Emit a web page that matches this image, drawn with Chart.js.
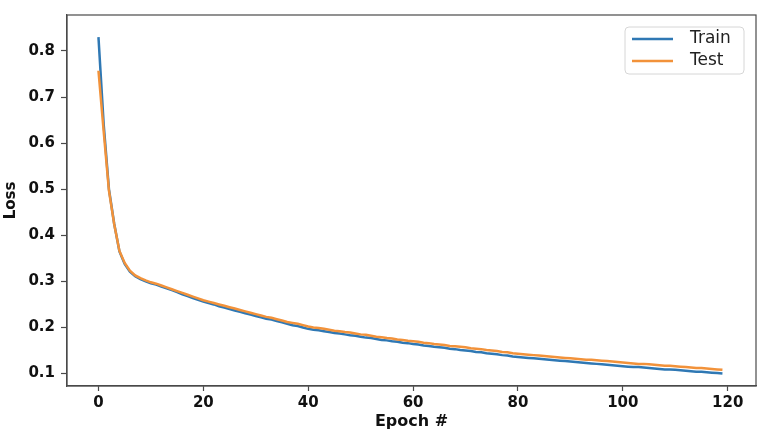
<!DOCTYPE html>
<html>
<head>
<meta charset="utf-8">
<title>Loss</title>
<script src="https://cdn.jsdelivr.net/npm/chart.js@4.4.1/dist/chart.umd.min.js"></script>
<style>
  html, body { margin: 0; padding: 0; background: #fff; }
  canvas { display: block; }
</style>
</head>
<body>
<canvas id="lossChart" width="761" height="433"></canvas>
<script>
// values, one per epoch 0..119
const trainLoss = [
  0.830, 0.640, 0.500, 0.425, 0.365, 0.338, 0.321, 0.311, 0.305, 0.300,
  0.296, 0.293, 0.289, 0.285, 0.281, 0.277, 0.272, 0.268, 0.264, 0.260,
  0.256, 0.253, 0.250, 0.246, 0.243, 0.240, 0.237, 0.234, 0.231, 0.228,
  0.225, 0.222, 0.219, 0.217, 0.214, 0.211, 0.208, 0.205, 0.203, 0.200,
  0.197, 0.195, 0.194, 0.192, 0.190, 0.188, 0.187, 0.185, 0.183, 0.182,
  0.180, 0.178, 0.177, 0.175, 0.173, 0.172, 0.170, 0.169, 0.167, 0.166,
  0.164, 0.163, 0.161, 0.160, 0.158, 0.157, 0.156, 0.154, 0.153, 0.151,
  0.150, 0.149, 0.147, 0.146, 0.144, 0.143, 0.142, 0.140, 0.139, 0.137,
  0.136, 0.135, 0.134, 0.133, 0.132, 0.131, 0.130, 0.129, 0.128, 0.127,
  0.126, 0.125, 0.124, 0.123, 0.122, 0.121, 0.120, 0.119, 0.118, 0.117,
  0.116, 0.115, 0.114, 0.114, 0.113, 0.112, 0.111, 0.110, 0.109, 0.109,
  0.108, 0.107, 0.106, 0.105, 0.104, 0.104, 0.103, 0.102, 0.101, 0.100
];
const testLoss = [
  0.757, 0.625, 0.497, 0.424, 0.366, 0.340, 0.323, 0.313, 0.307, 0.302,
  0.298, 0.295, 0.291, 0.287, 0.283, 0.279, 0.275, 0.271, 0.267, 0.263,
  0.259, 0.256, 0.253, 0.250, 0.247, 0.244, 0.241, 0.238, 0.235, 0.232,
  0.229, 0.226, 0.223, 0.221, 0.218, 0.215, 0.212, 0.210, 0.208, 0.205,
  0.202, 0.200, 0.199, 0.197, 0.195, 0.193, 0.192, 0.190, 0.189, 0.187,
  0.185, 0.184, 0.182, 0.180, 0.179, 0.177, 0.176, 0.174, 0.173, 0.171,
  0.170, 0.169, 0.167, 0.166, 0.164, 0.163, 0.162, 0.160, 0.159, 0.158,
  0.157, 0.155, 0.154, 0.153, 0.151, 0.150, 0.149, 0.147, 0.146, 0.144,
  0.143, 0.142, 0.141, 0.140, 0.139, 0.138, 0.137, 0.136, 0.135, 0.134,
  0.133, 0.132, 0.131, 0.130, 0.130, 0.129, 0.128, 0.127, 0.126, 0.125,
  0.124, 0.123, 0.122, 0.121, 0.121, 0.120, 0.119, 0.118, 0.117, 0.117,
  0.116, 0.115, 0.114, 0.113, 0.112, 0.112, 0.111, 0.110, 0.109, 0.108
];
const epochs = trainLoss.map((_, i) => i);
const xTicks = [0, 20, 40, 60, 80, 100, 120];
const yTicks = [0.1, 0.2, 0.3, 0.4, 0.5, 0.6, 0.7, 0.8];
const seriesNames = ["Train", "Test"];

const AXIS_COLOR = "#4a4a4a";
const TICK_FONT = { family: "DejaVu Sans", size: 15, weight: "bold" };

// frame around the plot, like matplotlib spines
const framePlugin = {
  id: "frame",
  afterDraw(chart) {
    const { ctx, chartArea: a } = chart;
    ctx.save();
    ctx.strokeStyle = AXIS_COLOR;
    ctx.lineWidth = 1.2;
    ctx.strokeRect(a.left, a.top, a.right - a.left, a.bottom - a.top);
    ctx.restore();
  }
};

// legend box in the upper right of the plot
const boxLegend = {
  id: "boxLegend",
  afterDatasetsDraw(chart) {
    const { ctx, chartArea: a } = chart;
    const w = 119, h = 47;
    const x = a.right - 12 - w, y = a.top + 12;
    ctx.save();
    ctx.beginPath();
    ctx.roundRect(x, y, w, h, 4);
    ctx.fillStyle = "rgba(255,255,255,0.85)";
    ctx.fill();
    ctx.strokeStyle = "#d6d6d6";
    ctx.lineWidth = 1;
    ctx.stroke();
    ctx.font = "17px 'DejaVu Sans'";
    ctx.textBaseline = "middle";
    chart.data.datasets.forEach((ds, i) => {
      const ly = y + 12 + i * 22;
      ctx.strokeStyle = ds.borderColor;
      ctx.lineWidth = 2.5;
      ctx.beginPath();
      ctx.moveTo(x + 7, ly);
      ctx.lineTo(x + 48, ly);
      ctx.stroke();
      ctx.fillStyle = "#222";
      ctx.fillText(ds.label, x + 65, ly);
    });
    ctx.restore();
  }
};

new Chart(document.getElementById("lossChart"), {
  type: "line",
  data: {
    datasets: [
      {
        label: seriesNames[0],
        data: epochs.map((e, i) => ({ x: e, y: trainLoss[i] })),
        borderColor: "#2f78b4",
        borderWidth: 2.5,
        pointRadius: 0,
        order: 1
      },
      {
        label: seriesNames[1],
        data: epochs.map((e, i) => ({ x: e, y: testLoss[i] })),
        borderColor: "#f2923a",
        borderWidth: 2.5,
        pointRadius: 0,
        order: 0
      }
    ]
  },
  options: {
    responsive: false,
    animation: false,
    layout: { padding: { top: 3, right: 5, left: 0, bottom: 0 } },
    plugins: {
      legend: { display: false },
      tooltip: { enabled: false }
    },
    scales: {
      x: {
        type: "linear",
        min: -6,
        max: 125.4,
        afterBuildTicks: s => { s.ticks = xTicks.map(v => ({ value: v })); },
        afterFit: s => { s.height = 47; },
        grid: { drawOnChartArea: false, color: AXIS_COLOR, tickLength: 5, tickWidth: 1.2 },
        border: { color: AXIS_COLOR, width: 1.2 },
        ticks: { color: "#111", font: TICK_FONT, padding: 3, maxRotation: 0 },
        title: {
          display: true,
          text: "Epoch #",
          color: "#111",
          font: { family: "DejaVu Sans", size: 16, weight: "bold" },
          padding: { top: 0, bottom: 2 }
        }
      },
      y: {
        min: 0.073,
        max: 0.878,
        afterBuildTicks: s => { s.ticks = yTicks.map(v => ({ value: v })); },
        afterFit: s => { s.width = 67; },
        grid: { drawOnChartArea: false, color: AXIS_COLOR, tickLength: 6, tickWidth: 1.2 },
        border: { color: AXIS_COLOR, width: 1.2 },
        ticks: { color: "#111", font: TICK_FONT, padding: 6, callback: v => v.toFixed(1) },
        title: {
          display: true,
          text: "Loss",
          color: "#111",
          font: { family: "DejaVu Sans", size: 15, weight: "bold" },
          padding: { top: 2, bottom: 0 }
        }
      }
    }
  },
  plugins: [framePlugin, boxLegend]
});
</script>
</body>
</html>
